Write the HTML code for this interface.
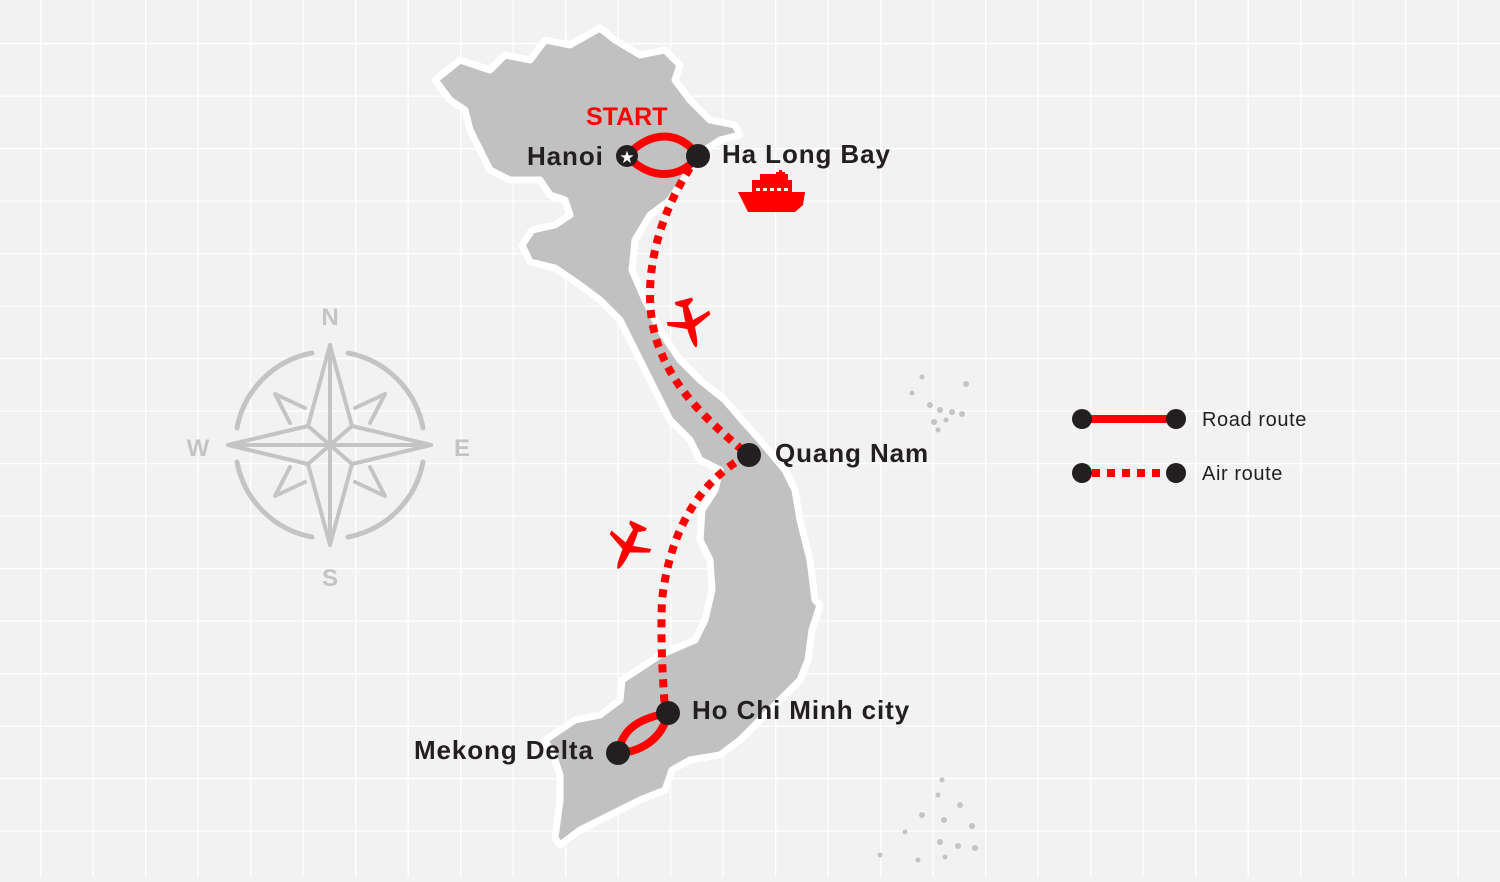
<!DOCTYPE html>
<html><head><meta charset="utf-8"><style>
html,body{margin:0;padding:0}
body{width:1500px;height:877px;overflow:hidden;background:#f2f2f2;font-family:"Liberation Sans",Arial,sans-serif}
</style></head><body>
<svg width="1500" height="877" viewBox="0 0 1500 877" xmlns="http://www.w3.org/2000/svg">
<defs>
<pattern id="g" x="40" y="43" width="52.5" height="52.5" patternUnits="userSpaceOnUse">
<path d="M0 0H52.5M0 0V52.5" stroke="#fff" stroke-width="2.5" fill="none"/>
</pattern>
</defs>
<rect width="1500" height="877" fill="#f2f2f2"/>
<rect width="1500" height="877" fill="url(#g)"/>
<!-- map -->
<path d="M435,80 L460,60 L490,70 L505,55 L530,60 L545,40 L570,45 L600,28 L615,40 L640,55 L665,50 L680,65 L675,80 L690,100 L710,120 L735,125 L740,135 L720,140 L705,150 L690,170 L670,200 L650,215 L635,240 L632,270 L645,300 L660,330 L680,360 L700,380 L725,400 L742,420 L760,440 L785,470 L795,490 L800,520 L810,560 L815,600 L820,605 L812,630 L808,660 L800,680 L780,700 L760,720 L740,740 L720,755 L690,760 L672,770 L665,790 L640,800 L610,815 L580,830 L560,845 L555,838 L560,800 L560,775 L555,760 L545,740 L575,720 L600,715 L620,700 L622,680 L645,665 L660,655 L695,640 L705,620 L712,590 L710,560 L700,540 L702,510 L715,490 L720,470 L700,460 L690,440 L670,420 L655,390 L640,360 L620,320 L600,300 L580,285 L555,268 L530,262 L522,245 L532,230 L555,225 L570,215 L565,200 L550,195 L540,180 L510,180 L490,170 L480,150 L470,130 L465,110 L450,100 Z" fill="#c1c1c1" stroke="#fff" stroke-width="7" stroke-linejoin="round"/>
<!-- islands -->
<g fill="#c4c4c4">
<circle cx="922" cy="377" r="2.5"/><circle cx="912" cy="393" r="2.5"/><circle cx="966" cy="384" r="3"/><circle cx="930" cy="405" r="3"/><circle cx="940" cy="410" r="3"/><circle cx="952" cy="412" r="3"/><circle cx="962" cy="414" r="3"/><circle cx="934" cy="422" r="3"/><circle cx="946" cy="420" r="2.5"/><circle cx="938" cy="430" r="2.5"/>
<circle cx="942" cy="780" r="2.5"/><circle cx="938" cy="795" r="2.5"/><circle cx="960" cy="805" r="3"/><circle cx="922" cy="815" r="3"/><circle cx="944" cy="820" r="3"/><circle cx="972" cy="826" r="3"/><circle cx="905" cy="832" r="2.5"/><circle cx="940" cy="842" r="3"/><circle cx="958" cy="846" r="3"/><circle cx="975" cy="848" r="3"/><circle cx="880" cy="855" r="2.5"/><circle cx="918" cy="860" r="2.5"/><circle cx="945" cy="857" r="2.5"/>
</g>
<!-- compass -->
<g stroke="#c4c4c4" fill="none" stroke-width="5" stroke-linecap="round">
<path d="M312,353 A94,94 0 0 0 237,428"/><path d="M348,353 A94,94 0 0 1 423,428"/>
<path d="M312,537 A94,94 0 0 1 237,462"/><path d="M348,537 A94,94 0 0 0 423,462"/>
</g>
<g stroke="#c4c4c4" fill="none" stroke-width="4" stroke-linejoin="round" stroke-linecap="round">
<path d="M330,345 L352,426 L431,445 L352,464 L330,545 L308,464 L228,445 L308,426 Z"/>
<path d="M330,345 L330,545 M228,445 L431,445"/>
<path d="M308,426 L330,445 L352,426 M308,464 L330,445 L352,464"/>
<path d="M305,408 L275,394 L290,423 M355,408 L385,394 L370,423 M305,482 L275,496 L290,467 M355,482 L385,496 L370,467"/>
</g>
<g fill="#c4c4c4" font-size="24" font-weight="bold" text-anchor="middle">
<text x="330" y="325">N</text><text x="330" y="586">S</text><text x="198" y="456">W</text><text x="462" y="456">E</text>
</g>
<!-- routes -->
<g fill="none" stroke="#f00" stroke-width="8">
<path d="M627,156 C650,130 680,130 698,156"/>
<path d="M627,156 C650,180 680,180 698,156"/>
<path d="M668,713 C630,720 622,735 618,753"/>
<path d="M668,713 C662,740 640,752 618,753"/>
</g>
<g fill="none" stroke="#f00" stroke-width="8" stroke-dasharray="8,7">
<path d="M690,168 C650,230 640,300 660,350 C680,400 720,430 748,455"/>
<path d="M748,455 C700,480 670,530 662,600 C660,650 664,690 665,712"/>
</g>
<!-- nodes -->
<circle cx="627" cy="156" r="11" fill="#231f20"/>
<text x="627" y="163" fill="#fff" font-size="17" text-anchor="middle">★</text>
<circle cx="698" cy="156" r="12" fill="#231f20"/>
<circle cx="749" cy="455" r="12" fill="#231f20"/>
<circle cx="668" cy="713" r="12" fill="#231f20"/>
<circle cx="618" cy="753" r="12" fill="#231f20"/>
<g font-weight="bold" font-size="26" fill="#231f20" letter-spacing="0.9">
<text x="527" y="165">Hanoi</text>
<text x="722" y="163">Ha Long Bay</text>
<text x="775" y="462">Quang Nam</text>
<text x="692" y="719">Ho Chi Minh city</text>
<text x="414" y="759">Mekong Delta</text>
</g>
<text x="586" y="125" font-weight="bold" font-size="25" fill="#f00">START</text>
<!-- ship -->
<g fill="#f00">
<path d="M738,192 L805,192 L803,205 L795,212 L748,212 Z"/>
<rect x="752" y="180" width="40" height="12"/>
<rect x="760" y="174" width="28" height="8"/>
<rect x="779" y="170" width="3" height="6"/><rect x="776" y="172" width="9" height="2"/>
</g>
<g fill="#fff"><rect x="756" y="188" width="4" height="3"/><rect x="763" y="188" width="4" height="3"/><rect x="770" y="188" width="4" height="3"/><rect x="777" y="188" width="4" height="3"/><rect x="784" y="188" width="4" height="3"/></g>
<!-- planes -->
<g fill="#f00" transform="translate(690,324) rotate(165)">
<ellipse cx="0" cy="0" rx="4" ry="24"/><path d="M-22,4 L0,-6 L22,4 L22,8 L0,2 L-22,8Z"/><path d="M-9,22 L0,16 L9,22 L9,25 L-9,25Z"/>
</g>
<g fill="#f00" transform="translate(628,547) rotate(205)">
<ellipse cx="0" cy="0" rx="4" ry="24"/><path d="M-22,4 L0,-6 L22,4 L22,8 L0,2 L-22,8Z"/><path d="M-9,22 L0,16 L9,22 L9,25 L-9,25Z"/>
</g>
<!-- legend -->
<line x1="1082" y1="419" x2="1176" y2="419" stroke="#f00" stroke-width="8"/>
<line x1="1092" y1="473" x2="1170" y2="473" stroke="#f00" stroke-width="8" stroke-dasharray="8,7"/>
<g fill="#231f20"><circle cx="1082" cy="419" r="10"/><circle cx="1176" cy="419" r="10"/><circle cx="1082" cy="473" r="10"/><circle cx="1176" cy="473" r="10"/></g>
<g font-size="20" fill="#231f20" letter-spacing="0.6"><text x="1202" y="426">Road route</text><text x="1202" y="480">Air route</text></g>
</svg>
</body></html>
